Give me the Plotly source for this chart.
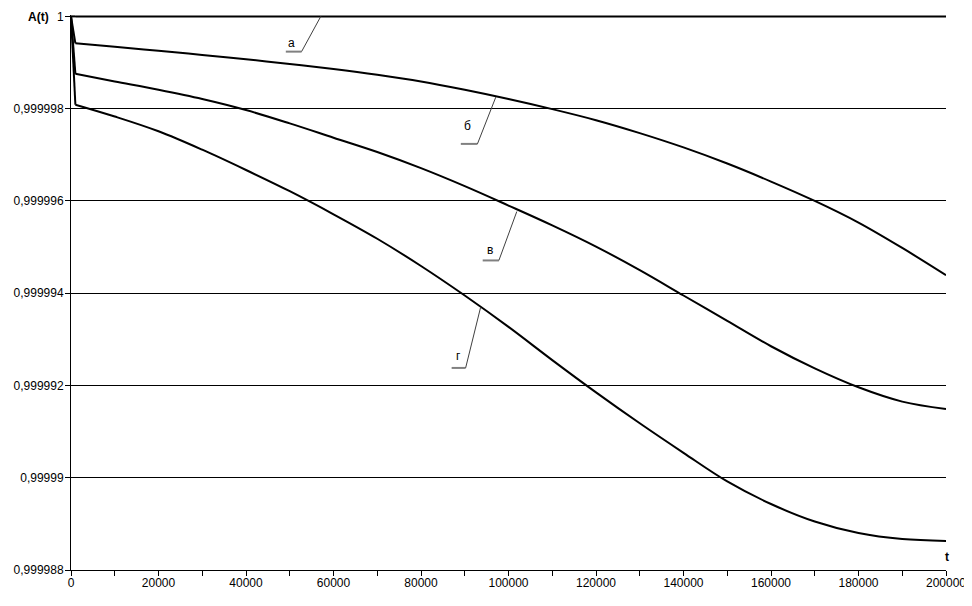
import plotly.graph_objects as go

# time points
t = [0, 1000, 10000, 20000, 30000, 40000, 50000, 60000, 70000, 80000, 90000,
     100000, 110000, 120000, 130000, 140000, 150000, 160000, 170000, 180000,
     190000, 200000]

# curve а
A_a = [1.0, 1.0, 1.0, 1.0, 1.0, 1.0, 1.0, 1.0, 1.0, 1.0, 1.0,
       1.0, 1.0, 1.0, 1.0, 1.0, 1.0, 1.0, 1.0, 1.0, 1.0, 1.0]
# curve б
A_b = [1.0, 0.999999415, 0.99999934, 0.999999255, 0.999999165, 0.99999907,
       0.99999897, 0.99999886, 0.999998735, 0.99999859, 0.99999841,
       0.99999821, 0.99999799, 0.99999775, 0.99999747, 0.99999716,
       0.99999681, 0.99999642, 0.99999600, 0.99999553, 0.99999498,
       0.99999439]
# curve в
A_v = [1.0, 0.999998755, 0.99999859, 0.99999841, 0.99999821, 0.99999797,
       0.99999768, 0.99999737, 0.99999706, 0.99999671, 0.99999632,
       0.99999590, 0.99999547, 0.99999501, 0.99999450, 0.99999395,
       0.99999340, 0.99999285, 0.99999237, 0.99999196, 0.99999165,
       0.99999149]
# curve г
A_g = [1.0, 0.999998086, 0.99999783, 0.99999751, 0.99999711, 0.99999667,
       0.99999621, 0.99999571, 0.99999518, 0.99999459, 0.99999395,
       0.99999327, 0.99999255, 0.99999185, 0.99999118, 0.99999054,
       0.99998992, 0.99998943, 0.99998905, 0.99998880, 0.99998867,
       0.99998863]

series_names = ["а", "б", "в", "г"]

y_tick_vals = [0.999988, 0.99999, 0.999992, 0.999994, 0.999996, 0.999998, 1.0]
y_tick_labels = ["0,999988", "0,99999", "0,999992", "0,999994", "0,999996",
                 "0,999998", "1"]

x_tick_vals = [0, 10000, 20000, 30000, 40000, 50000, 60000, 70000, 80000,
               90000, 100000, 110000, 120000, 130000, 140000, 150000, 160000,
               170000, 180000, 190000, 200000]
x_tick_labels = ["0", "", "20000", "", "40000", "", "60000", "", "80000", "",
                 "100000", "", "120000", "", "140000", "", "160000", "",
                 "180000", "", "200000"]

FONT = "Liberation Sans, Arial, sans-serif"

fig = go.Figure()
for name, ys in zip(series_names, [A_a, A_b, A_v, A_g]):
    # initial steep drop (straight segment)
    fig.add_trace(go.Scatter(x=t[:2], y=ys[:2], mode="lines", name=name,
                             line=dict(color="black", width=2),
                             hoverinfo="x+y"))
    # smooth remaining part
    fig.add_trace(go.Scatter(x=t[1:], y=ys[1:], mode="lines", name=name,
                             line=dict(color="black", width=2, shape="spline",
                                       smoothing=1.0),
                             hoverinfo="x+y"))

# leader lines (horizontal grey + thin diagonal) and labels
leaders = [
    # (label, text_x, text_y, h_x0, h_x1, h_y, end_x, end_y)
    ("а", 50400, 0.99999943, 49100, 52700, 0.999999236, 57100, 1.0),
    ("б", 90600, 0.999997625, 89100, 92900, 0.999997236, 97100, 0.99999825),
    ("в", 95800, 0.99999493, 94100, 97800, 0.99999471, 101900, 0.99999577),
    ("г", 88500, 0.99999263, 87000, 90200, 0.99999238, 93600, 0.999993685),
]
for lab, tx, ty, hx0, hx1, hy, ex, ey in leaders:
    fig.add_shape(type="line", xref="x", yref="y", x0=hx0, x1=hx1, y0=hy, y1=hy,
                  line=dict(color="#808080", width=2))
    fig.add_shape(type="line", xref="x", yref="y", x0=hx1, x1=ex, y0=hy, y1=ey,
                  line=dict(color="#404040", width=1))
    fig.add_annotation(x=tx, y=ty, xref="x", yref="y", text=lab, showarrow=False,
                       xanchor="center", yanchor="middle",
                       font=dict(family=FONT, size=12, color="black"))

fig.add_annotation(xref="paper", yref="paper", x=-0.0366, y=0.9964,
                   text="<b>A(t)</b>", showarrow=False, xanchor="center",
                   yanchor="middle", font=dict(family=FONT, size=12, color="black"))
fig.add_annotation(xref="paper", yref="paper", x=1.001, y=0.0235,
                   text="<b>t</b>", showarrow=False, xanchor="center",
                   yanchor="middle", font=dict(family=FONT, size=12, color="black"))

# page body has an 8px default margin, so the figure is 8px smaller
fig.update_layout(
    width=964, height=598, autosize=False,
    margin=dict(l=63, r=26, t=7, b=36, autoexpand=False),
    paper_bgcolor="white", plot_bgcolor="white",
    showlegend=False,
    font=dict(family=FONT, size=12, color="black"),
    xaxis=dict(range=[0, 200000], tickmode="array", tickvals=x_tick_vals,
               ticktext=x_tick_labels, ticks="outside", ticklen=5,
               tickcolor="black", showline=True, linecolor="black",
               linewidth=1, showgrid=False, zeroline=False, automargin=False,
               ticklabelstandoff=-3,
               tickfont=dict(family=FONT, size=12, color="black")),
    yaxis=dict(range=[0.999988, 1.00000003], tickmode="array",
               tickvals=y_tick_vals, ticktext=y_tick_labels, ticks="outside",
               ticklen=5, tickcolor="black", showline=True, linecolor="black",
               linewidth=1, showgrid=True, gridcolor="black", gridwidth=1,
               zeroline=False, automargin=False, ticklabelstandoff=-1,
               tickfont=dict(family=FONT, size=12, color="black")),
)

fig.write_html("out.html")
